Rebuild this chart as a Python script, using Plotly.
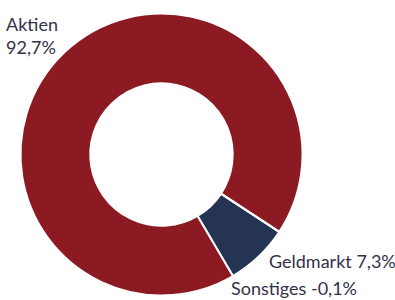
import plotly.graph_objects as go

categories = ["Geldmarkt", "Aktien", "Sonstiges"]
values = [7.3, 92.7, -0.1]
labels_text = ["Geldmarkt 7,3%", "Aktien<br>92,7%", "Sonstiges -0,1%"]
colors = ["#243452", "#8B1A22", "#999999"]

W, H = 395, 300
pie_vals = [max(v, 0) for v in values]

fig = go.Figure(go.Pie(
    labels=categories,
    values=pie_vals,
    hole=0.505,
    sort=False,
    direction="clockwise",
    rotation=123.3,
    marker=dict(colors=colors, line=dict(color="white", width=2)),
    textinfo="none",
    hoverinfo="label+percent",
    showlegend=False,
    domain=dict(x=[(161.5 - 141) / W, (161.5 + 141) / W],
                y=[(145.5 - 141) / H, (145.5 + 141) / H]),
))

font = dict(family="Lato, Noto Sans, sans-serif", size=18, color="#35304a")
ann_pos = {"Aktien": (4, 11), "Geldmarkt": (267, 248), "Sonstiges": (229, 275)}
for cat, txt in zip(categories, labels_text):
    x, y = ann_pos[cat]
    fig.add_annotation(x=x / W, y=1 - y / H, xref="paper", yref="paper",
                       text=txt, showarrow=False, xanchor="left", yanchor="top",
                       align="left", font=font)

fig.update_layout(width=W, height=H, margin=dict(l=0, r=0, t=0, b=0),
                  paper_bgcolor="white", plot_bgcolor="white")
fig.write_html("out.html", config={"displayModeBar": False},
               post_script="document.body.style.margin='0';")
